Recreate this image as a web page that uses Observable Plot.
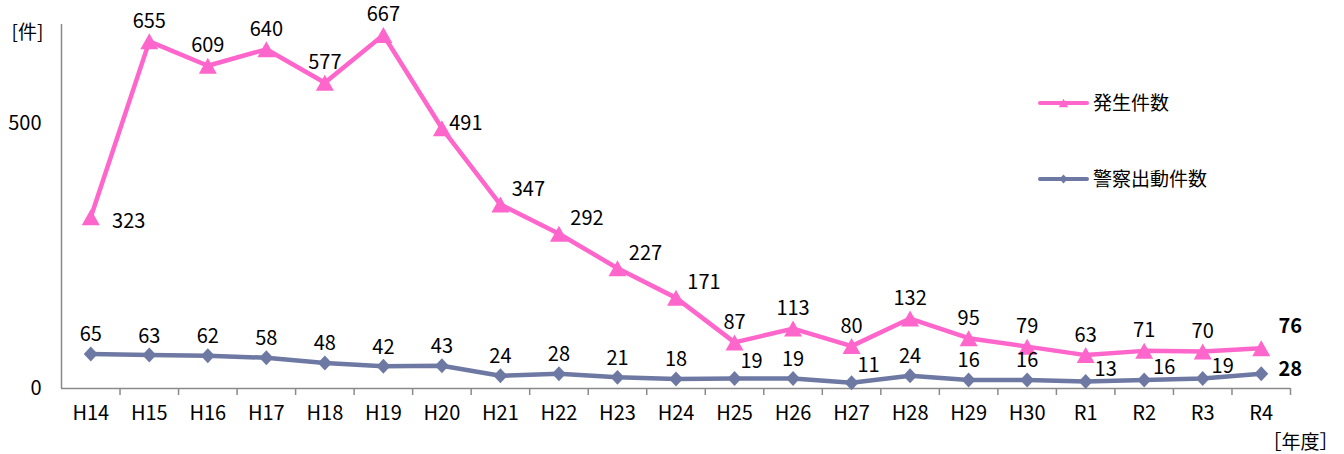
<!DOCTYPE html>
<html>
<head>
<meta charset="utf-8">
<script src="https://cdn.jsdelivr.net/npm/d3@7"></script>
<script src="https://cdn.jsdelivr.net/npm/@observablehq/plot@0.6"></script>
<style>
  html, body { margin: 0; padding: 0; background: #fff; }
  #chart svg { display: block; }
</style>
</head>
<body>
<div id="chart"></div>
<script>
// ---- data ----
const years = ["H14","H15","H16","H17","H18","H19","H20","H21","H22","H23","H24","H25","H26","H27","H28","H29","H30","R1","R2","R3","R4"];
const occurrences = [323,655,609,640,577,667,491,347,292,227,171,87,113,80,132,95,79,63,71,70,76];
const dispatches  = [65,63,62,58,48,42,43,24,28,21,18,19,19,11,24,16,16,13,16,19,28];
const seriesNames = ["発生件数", "警察出動件数"];
const yTicks = [0, 500];
const yUnit = "[件]";
const xUnit = "［年度］";
// label placement keywords (from the reference)
const occPlace  = ["right","above","above","above","above","above","rightUp","aboveRight","aboveRight","aboveRight","aboveRight","above","above","above","above","above","above","above","above","above","end"];
const dispPlace = ["above","above","above","above","above","above","above","above","above","above","above","aboveRight","above","aboveRight","above","above","above","right","right","right","end"];

// ---- layout / style ----
const W = 1344, H = 454;
const mL = 61, mR = 54, mT = 17, mB = 66;
const step = (W - mL - mR) / years.length;
const PINK = "#FF66CC", BLUE = "#6E79A3", AXIS = "#8A8A8A";
const FONT = "'Noto Sans CJK JP', 'Noto Sans', sans-serif";

const rows = years.map((y, i) => ({year: y, occ: occurrences[i], disp: dispatches[i], op: occPlace[i], dp: dispPlace[i]}));

const triangle = { draw(ctx, size) { const r = Math.sqrt(size / Math.PI); ctx.moveTo(0, -r); ctx.lineTo(1.125 * r, r); ctx.lineTo(-1.125 * r, r); ctx.closePath(); } };
const diamond  = { draw(ctx, size) { const r = Math.sqrt(size / Math.PI); ctx.moveTo(0, -1.07 * r); ctx.lineTo(r, 0); ctx.lineTo(0, 1.07 * r); ctx.lineTo(-r, 0); ctx.closePath(); } };

const occOff  = {above: [0, -20], right: [38, 4], rightUp: [24, -5], aboveRight: [28, -15], end: [29, -22]};
const dispOff = {above: [0, -19], aboveRight: [17, -17], right: [20, -12], end: [29, -4]};

function labelMarks(field, placeField, offsets) {
  return Object.entries(offsets).map(([k, [dx, dy]]) =>
    Plot.text(rows.filter(d => d[placeField] === k), {
      x: "year", y: field, text: d => String(d[field]), dx, dy,
      fontSize: 20, fontWeight: k === "end" ? "bold" : "normal", fill: "#000"
    })
  );
}

const chart = Plot.plot({
  width: W, height: H,
  marginLeft: mL, marginRight: mR, marginTop: mT, marginBottom: mB,
  style: {fontFamily: FONT, fontSize: "20px", color: "#000", background: "#fff"},
  x: {type: "point", domain: years, padding: 0.5, round: false, label: null},
  y: {domain: [0, 700], label: null},
  marks: [
    // axes
    Plot.ruleY([0], {stroke: AXIS, strokeWidth: 1.5}),
    Plot.ruleX([years[0]], {dx: -step / 2, y1: 0, y2: 700, insetBottom: -7, stroke: AXIS, strokeWidth: 1.5}),
    Plot.ruleX(years.slice(1), {x: d => d, y1: 0, y2: 0, dx: -step / 2, insetBottom: -7, stroke: AXIS, strokeWidth: 1.5}),
    Plot.ruleX([years[years.length - 1]], {x: d => d, y1: 0, y2: 0, dx: step / 2, insetBottom: -7, stroke: AXIS, strokeWidth: 1.5}),
    Plot.ruleY(yTicks.filter(t => t > 0), {y: d => d, x1: years[0], x2: years[0], dx: -step / 2, insetRight: -6, stroke: AXIS, strokeWidth: 1.5}),
    Plot.axisY({ticks: yTicks, tickSize: 0, tickPadding: 20, fontSize: 20, label: null}),
    Plot.axisX({tickSize: 0, tickPadding: 17, fontSize: 20, label: null}),
    // series
    Plot.line(rows, {x: "year", y: "occ", stroke: PINK, strokeWidth: 4.5, strokeLinejoin: "round"}),
    Plot.line(rows, {x: "year", y: "disp", stroke: BLUE, strokeWidth: 4.5, strokeLinejoin: "round"}),
    Plot.dot(rows, {x: "year", y: "occ", symbol: triangle, r: 8, fill: PINK, stroke: null}),
    Plot.dot(rows, {x: "year", y: "disp", symbol: diamond, r: 7, fill: BLUE, stroke: null}),
    // labels
    ...labelMarks("occ", "op", occOff),
    ...labelMarks("disp", "dp", dispOff),
    // units
    Plot.text([yUnit], {frameAnchor: "top-left", text: d => d, dx: -34, dy: 15, fontSize: 19, textAnchor: "middle", lineAnchor: "middle"}),
    Plot.text([xUnit], {frameAnchor: "bottom-right", text: d => d, dx: 10, dy: 54, fontSize: 19, textAnchor: "middle", lineAnchor: "middle"})
  ]
});

// legend (inside the plot area, top right)
const svg = d3.select(chart);
const legend = [
  {name: seriesNames[0], color: PINK, y: 103, sym: triangle, r: 4.2},
  {name: seriesNames[1], color: BLUE, y: 179, sym: diamond, r: 4.2}
];
const lg = svg.append("g").attr("font-family", FONT).attr("font-size", 19).attr("text-anchor", "start");
legend.forEach(d => {
  lg.append("line").attr("x1", 1040).attr("x2", 1087).attr("y1", d.y).attr("y2", d.y)
    .attr("stroke", d.color).attr("stroke-width", 4).attr("stroke-linecap", "round");
  lg.append("path").attr("transform", `translate(1063.5,${d.y})`)
    .attr("d", d3.symbol(d.sym, Math.PI * d.r * d.r)()).attr("fill", d.color);
  lg.append("text").attr("x", 1093).attr("y", d.y).attr("dy", "0.35em").attr("fill", "#000").text(d.name);
});

document.getElementById("chart").appendChild(chart);
</script>
</body>
</html>
